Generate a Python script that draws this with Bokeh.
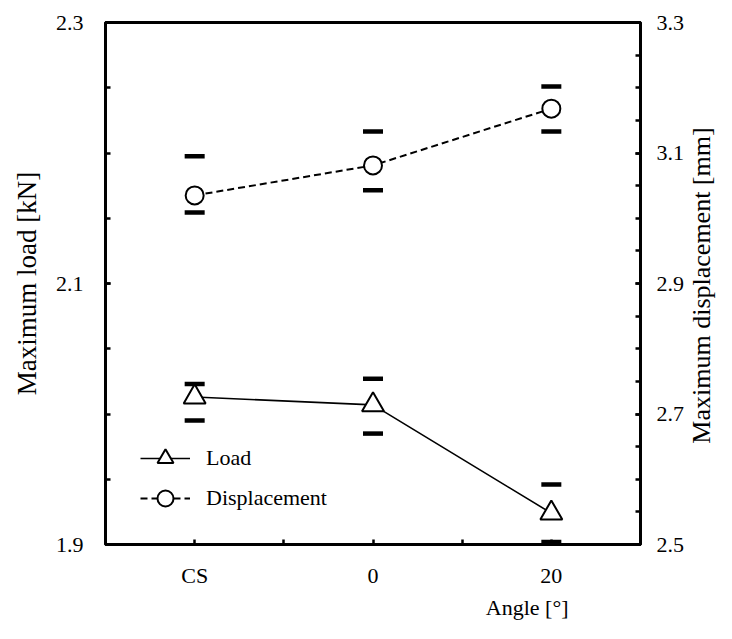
import numpy as np
from bokeh.plotting import figure
from bokeh.models import Range1d, LinearAxis, FixedTicker, Legend, LegendItem, Label, Title
from bokeh.embed import file_html
from bokeh.resources import INLINE

# ---- data ----
angles = ["CS", "0", "20"]
load = [2.013, 2.007, 1.924]
load_upper = [2.023, 2.027, 1.946]
load_lower = [1.995, 1.985, 1.902]
disp = [3.035, 3.081, 3.168]
disp_upper = [3.095, 3.133, 3.202]
disp_lower = [3.009, 3.043, 3.133]

left_labels = [1.9, 2.1, 2.3]
right_labels = [2.5, 2.7, 2.9, 3.1, 3.3]

xs = list(range(1, len(angles) + 1))
FONT = "Liberation Serif"

p = figure(width=716, height=623,
           x_range=Range1d(0.5, len(angles) + 0.5), y_range=Range1d(1.9, 2.3),
           output_backend="svg", toolbar_location=None,
           min_border_left=105, min_border_right=76, min_border_top=22, min_border_bottom=79)
p.xgrid.visible = False
p.ygrid.visible = False
p.outline_line_color = "black"
p.outline_line_width = 3
p.background_fill_color = "white"
p.border_fill_color = "white"

p.extra_y_ranges = {"disp": Range1d(2.5, 3.3)}
raxis = LinearAxis(y_range_name="disp")
p.add_layout(raxis, "right")

xaxis = p.xaxis[0]
yaxis = p.yaxis[0]

for ax in (xaxis, yaxis, raxis):
    ax.axis_line_width = 3
    ax.axis_line_color = "black"
    ax.major_tick_in = 5
    ax.major_tick_out = 0
    ax.minor_tick_in = 5
    ax.minor_tick_out = 0
    ax.major_tick_line_width = 2.5
    ax.minor_tick_line_width = 2.5
    ax.major_label_text_font = FONT
    ax.major_label_text_font_size = "22px"
    ax.major_label_text_color = "black"
    ax.axis_label_text_font = FONT
    ax.axis_label_text_font_style = "normal"
    ax.axis_label_text_color = "black"

xaxis.ticker = FixedTicker(ticks=xs, minor_ticks=[x + 0.5 for x in xs[:-1]])
xaxis.major_label_overrides = {x: a for x, a in zip(xs, angles)}
xaxis.major_label_standoff = 18

yaxis.ticker = FixedTicker(ticks=left_labels, minor_ticks=list(np.round(np.arange(1.9, 2.3001, 0.05), 2)))
yaxis.major_label_standoff = 22
yaxis.axis_label = "Maximum load [kN]"
yaxis.axis_label_text_font_size = "27px"
yaxis.axis_label_standoff = 11

raxis.ticker = FixedTicker(ticks=right_labels, minor_ticks=list(np.round(np.arange(2.5, 3.3001, 0.05), 2)))
raxis.major_label_standoff = 16

# ---- glyphs ----
l1 = p.line(xs, load, line_color="black", line_width=1.6)
l2 = p.line(xs, disp, line_color="black", line_width=2, line_dash="7 4", y_range_name="disp")

p.scatter(xs, load_upper, marker="dash", size=20, line_width=4.5, line_color="black")
p.scatter(xs, load_lower, marker="dash", size=20, line_width=4.5, line_color="black")
p.scatter(xs, disp_upper, marker="dash", size=20, line_width=4.5, line_color="black", y_range_name="disp")
p.scatter(xs, disp_lower, marker="dash", size=20, line_width=4.5, line_color="black", y_range_name="disp")

s1 = p.scatter(xs, load, marker="triangle", size=22, line_color="black", line_width=2, fill_color="white")
s2 = p.scatter(xs, disp, marker="circle", size=18, line_color="black", line_width=2, fill_color="white",
               y_range_name="disp")

legend = Legend(items=[LegendItem(label="Load", renderers=[l1, s1]),
                       LegendItem(label="Displacement", renderers=[l2, s2])],
                location=(35, 26), glyph_width=50, glyph_height=40, label_height=40,
                spacing=0, padding=0, margin=0, border_line_color=None,
                background_fill_alpha=0, label_standoff=16,
                label_text_font=FONT, label_text_font_size="22px", label_text_color="black")
p.add_layout(legend)

# right-axis title, reading bottom to top, in its own side panel
p.add_layout(Label(x=14, y=259, x_units="screen", y_units="screen",
                   text="Maximum displacement [mm]", angle=90, angle_units="deg",
                   text_align="center", text_baseline="middle",
                   text_font=FONT, text_font_size="26px", text_color="black"), "right")

# x-axis title, placed towards the right as in the reference
p.add_layout(Title(text="Angle [°]", align="right", offset=72, text_font=FONT, text_font_size="22px",
                   text_font_style="normal", text_color="black", standoff=5), "below")

open("out.html", "w").write(file_html(p, INLINE))
